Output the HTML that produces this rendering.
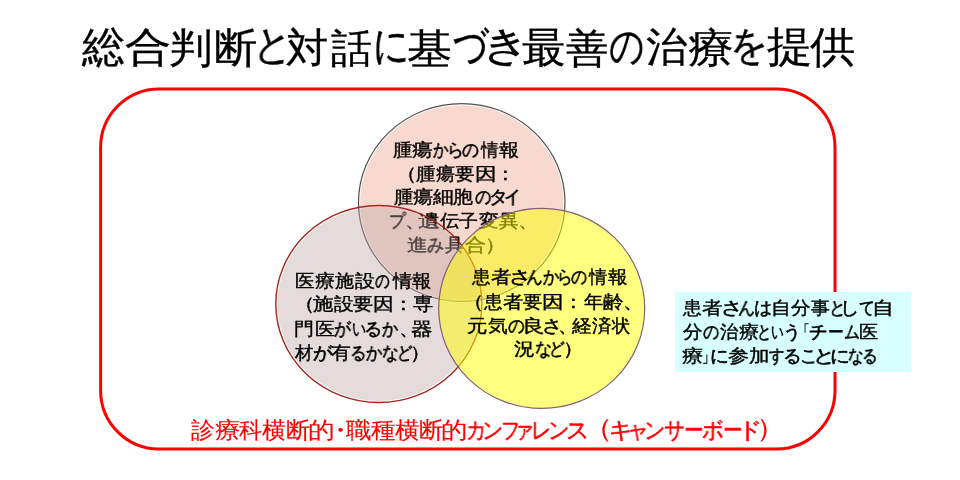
<!DOCTYPE html>
<html lang="ja"><head><meta charset="utf-8"><title>slide</title>
<style>
html,body{margin:0;padding:0;background:#fff;}
body{width:960px;height:480px;position:relative;overflow:hidden;font-family:"Liberation Sans",sans-serif;}
.l{position:absolute;left:0;top:0;}
.t{position:absolute;white-space:nowrap;line-height:1;transform-origin:0 0;will-change:transform;font-family:"Liberation Sans",sans-serif;}
.k{-webkit-text-stroke-width:0.6px;}
.box{position:absolute;left:675px;top:292.1px;width:235.7px;height:79.6px;background:#d7ffff;}
</style></head><body>
<svg class="l" width="960" height="480"><rect x="100.6" y="88.9" width="734.4" height="360.1" rx="58.5" ry="58.5" fill="none" stroke="#ff0000" stroke-width="3"/></svg>
<svg class="l" width="960" height="480"><ellipse cx="461.75" cy="202.5" rx="101.65" ry="97.30000000000001" fill="rgba(240,180,160,0.5)"/><ellipse cx="461.75" cy="202.5" rx="103.25" ry="98.9" fill="none" stroke="#505050" stroke-width="1.2"/></svg>
<div class="t" style="left:392.61px;top:140.53px;font-size:18.30px;transform:scaleX(1.0584);color:#000;-webkit-text-stroke:0.4px #000">腫</div>
<div class="t" style="left:411.68px;top:140.53px;font-size:18.30px;transform:scaleX(1.1510);color:#000;-webkit-text-stroke:0.4px #000">瘍</div>
<div class="t" style="left:432.83px;top:140.53px;font-size:18.30px;transform:scaleX(0.8571);color:#000;-webkit-text-stroke:0.6px #000">か</div>
<div class="t" style="left:447.41px;top:140.53px;font-size:18.30px;transform:scaleX(0.9298);color:#000;-webkit-text-stroke:0.6px #000">ら</div>
<div class="t" style="left:462.41px;top:140.53px;font-size:18.30px;transform:scaleX(0.9368);color:#000;-webkit-text-stroke:0.6px #000">の</div>
<div class="t" style="left:481.16px;top:140.53px;font-size:18.30px;transform:scaleX(0.9770);color:#000;-webkit-text-stroke:0.4px #000">情</div>
<div class="t" style="left:499.49px;top:140.53px;font-size:18.30px;transform:scaleX(1.1223);color:#000;-webkit-text-stroke:0.4px #000">報</div><div class="t" style="left:395.57px;top:164.96px;font-size:18.30px;transform:scaleX(1.1500);color:#000;-webkit-text-stroke:0.4px #000">（</div>
<div class="t" style="left:415.91px;top:164.96px;font-size:18.30px;transform:scaleX(1.0756);color:#000;-webkit-text-stroke:0.4px #000">腫</div>
<div class="t" style="left:435.81px;top:164.96px;font-size:18.30px;transform:scaleX(1.0580);color:#000;-webkit-text-stroke:0.4px #000">瘍</div>
<div class="t" style="left:455.20px;top:164.96px;font-size:18.30px;transform:scaleX(1.0871);color:#000;-webkit-text-stroke:0.4px #000">要</div>
<div class="t" style="left:475.32px;top:164.96px;font-size:18.30px;transform:scaleX(1.2022);color:#000;-webkit-text-stroke:0.4px #000">因</div>
<div class="t" style="left:495.48px;top:164.96px;font-size:18.30px;transform:scaleX(1.1500);color:#000;-webkit-text-stroke:0.4px #000">：</div><div class="t" style="left:393.51px;top:188.36px;font-size:18.30px;transform:scaleX(1.0641);color:#000;-webkit-text-stroke:0.4px #000">腫</div>
<div class="t" style="left:412.69px;top:188.36px;font-size:18.30px;transform:scaleX(1.1220);color:#000;-webkit-text-stroke:0.4px #000">瘍</div>
<div class="t" style="left:433.40px;top:188.36px;font-size:18.30px;transform:scaleX(1.1582);color:#000;-webkit-text-stroke:0.4px #000">細</div>
<div class="t" style="left:453.19px;top:188.36px;font-size:18.30px;transform:scaleX(1.1100);color:#000;-webkit-text-stroke:0.4px #000">胞</div>
<div class="t" style="left:474.54px;top:188.36px;font-size:18.30px;transform:scaleX(0.9067);color:#000;-webkit-text-stroke:0.6px #000">の</div>
<div class="t" style="left:489.11px;top:188.36px;font-size:18.30px;transform:scaleX(1.0461);color:#000;-webkit-text-stroke:0.6px #000">タ</div>
<div class="t" style="left:503.97px;top:188.36px;font-size:18.30px;transform:scaleX(0.9304);color:#000;-webkit-text-stroke:0.6px #000">イ</div><div class="t" style="left:389.49px;top:211.86px;font-size:18.30px;transform:scaleX(0.9185);color:#000;-webkit-text-stroke:0.6px #000">プ</div>
<div class="t" style="left:405.10px;top:211.86px;font-size:18.30px;transform:scaleX(1.1475);color:#000;-webkit-text-stroke:0.4px #000">、</div>
<div class="t" style="left:418.22px;top:211.86px;font-size:18.30px;transform:scaleX(1.2386);color:#000;-webkit-text-stroke:0.4px #000">遺</div>
<div class="t" style="left:439.50px;top:211.86px;font-size:18.30px;transform:scaleX(1.0704);color:#000;-webkit-text-stroke:0.4px #000">伝</div>
<div class="t" style="left:459.42px;top:211.86px;font-size:18.30px;transform:scaleX(1.0518);color:#000;-webkit-text-stroke:0.4px #000">子</div>
<div class="t" style="left:478.90px;top:211.86px;font-size:18.30px;transform:scaleX(1.0929);color:#000;-webkit-text-stroke:0.4px #000">変</div>
<div class="t" style="left:499.35px;top:211.86px;font-size:18.30px;transform:scaleX(1.0900);color:#000;-webkit-text-stroke:0.4px #000">異</div>
<div class="t" style="left:518.49px;top:211.86px;font-size:18.30px;transform:scaleX(1.1500);color:#000;-webkit-text-stroke:0.4px #000">、</div><div class="t" style="left:407.06px;top:236.46px;font-size:18.30px;transform:scaleX(1.1590);color:#000;-webkit-text-stroke:0.4px #000">進</div>
<div class="t" style="left:427.31px;top:236.46px;font-size:18.30px;transform:scaleX(0.9368);color:#000;-webkit-text-stroke:0.6px #000">み</div>
<div class="t" style="left:444.61px;top:236.46px;font-size:18.30px;transform:scaleX(1.0694);color:#000;-webkit-text-stroke:0.4px #000">具</div>
<div class="t" style="left:465.07px;top:236.46px;font-size:18.30px;transform:scaleX(1.1634);color:#000;-webkit-text-stroke:0.4px #000">合</div>
<div class="t" style="left:484.99px;top:236.46px;font-size:18.30px;transform:scaleX(1.1500);color:#000;-webkit-text-stroke:0.4px #000">）</div>
<svg class="l" width="960" height="480"><ellipse cx="378.8" cy="304.0" rx="101.4" ry="96.9" fill="rgba(190,165,165,0.4)"/><ellipse cx="378.8" cy="304.0" rx="103.0" ry="98.5" fill="none" stroke="#a0261c" stroke-width="1.4"/></svg>
<div class="t" style="left:295.41px;top:271.86px;font-size:18.30px;transform:scaleX(1.0868);color:#000;-webkit-text-stroke:0.4px #000">医</div>
<div class="t" style="left:315.34px;top:271.86px;font-size:18.30px;transform:scaleX(1.1137);color:#000;-webkit-text-stroke:0.4px #000">療</div>
<div class="t" style="left:335.11px;top:271.86px;font-size:18.30px;transform:scaleX(1.0591);color:#000;-webkit-text-stroke:0.4px #000">施</div>
<div class="t" style="left:354.80px;top:271.86px;font-size:18.30px;transform:scaleX(1.1102);color:#000;-webkit-text-stroke:0.4px #000">設</div>
<div class="t" style="left:375.40px;top:271.86px;font-size:18.30px;transform:scaleX(0.8167);color:#000;-webkit-text-stroke:0.6px #000">の</div>
<div class="t" style="left:392.59px;top:271.86px;font-size:18.30px;transform:scaleX(1.0653);color:#000;-webkit-text-stroke:0.4px #000">情</div>
<div class="t" style="left:412.01px;top:271.86px;font-size:18.30px;transform:scaleX(1.0782);color:#000;-webkit-text-stroke:0.4px #000">報</div><div class="t" style="left:293.67px;top:295.31px;font-size:18.30px;transform:scaleX(1.1500);color:#000;-webkit-text-stroke:0.4px #000">（</div>
<div class="t" style="left:312.69px;top:295.31px;font-size:18.30px;transform:scaleX(1.1323);color:#000;-webkit-text-stroke:0.4px #000">施</div>
<div class="t" style="left:333.90px;top:295.31px;font-size:18.30px;transform:scaleX(1.0929);color:#000;-webkit-text-stroke:0.4px #000">設</div>
<div class="t" style="left:353.39px;top:295.31px;font-size:18.30px;transform:scaleX(1.1161);color:#000;-webkit-text-stroke:0.4px #000">要</div>
<div class="t" style="left:372.90px;top:295.31px;font-size:18.30px;transform:scaleX(1.1544);color:#000;-webkit-text-stroke:0.4px #000">因</div>
<div class="t" style="left:392.88px;top:295.31px;font-size:18.30px;transform:scaleX(1.1500);color:#000;-webkit-text-stroke:0.4px #000">：</div>
<div class="t" style="left:413.29px;top:295.31px;font-size:18.30px;transform:scaleX(1.1220);color:#000;-webkit-text-stroke:0.4px #000">専</div><div class="t" style="left:293.98px;top:320.31px;font-size:18.30px;transform:scaleX(1.1096);color:#000;-webkit-text-stroke:0.4px #000">門</div>
<div class="t" style="left:314.78px;top:320.31px;font-size:18.30px;transform:scaleX(1.1111);color:#000;-webkit-text-stroke:0.4px #000">医</div>
<div class="t" style="left:334.32px;top:320.31px;font-size:18.30px;transform:scaleX(0.9295);color:#000;-webkit-text-stroke:0.6px #000">が</div>
<div class="t" style="left:351.52px;top:320.31px;font-size:18.30px;transform:scaleX(0.7752);color:#000;-webkit-text-stroke:0.6px #000">い</div>
<div class="t" style="left:364.08px;top:320.31px;font-size:18.30px;transform:scaleX(1.0128);color:#000;-webkit-text-stroke:0.6px #000">る</div>
<div class="t" style="left:382.21px;top:320.31px;font-size:18.30px;transform:scaleX(0.8973);color:#000;-webkit-text-stroke:0.6px #000">か</div>
<div class="t" style="left:398.79px;top:320.31px;font-size:18.30px;transform:scaleX(1.1500);color:#000;-webkit-text-stroke:0.4px #000">、</div>
<div class="t" style="left:411.02px;top:320.31px;font-size:18.30px;transform:scaleX(1.2022);color:#000;-webkit-text-stroke:0.4px #000">器</div><div class="t" style="left:294.60px;top:343.76px;font-size:18.30px;transform:scaleX(1.0084);color:#000;-webkit-text-stroke:0.4px #000">材</div>
<div class="t" style="left:312.51px;top:343.76px;font-size:18.30px;transform:scaleX(1.0816);color:#000;-webkit-text-stroke:0.6px #000">が</div>
<div class="t" style="left:331.10px;top:343.76px;font-size:18.30px;transform:scaleX(1.0987);color:#000;-webkit-text-stroke:0.4px #000">有</div>
<div class="t" style="left:350.00px;top:343.76px;font-size:18.30px;transform:scaleX(0.9107);color:#000;-webkit-text-stroke:0.6px #000">る</div>
<div class="t" style="left:365.90px;top:343.76px;font-size:18.30px;transform:scaleX(0.9031);color:#000;-webkit-text-stroke:0.6px #000">か</div>
<div class="t" style="left:382.46px;top:343.76px;font-size:18.30px;transform:scaleX(0.9170);color:#000;-webkit-text-stroke:0.6px #000">な</div>
<div class="t" style="left:396.71px;top:343.76px;font-size:18.30px;transform:scaleX(0.8493);color:#000;-webkit-text-stroke:0.6px #000">ど</div>
<div class="t" style="left:410.14px;top:343.76px;font-size:18.30px;transform:scaleX(1.1500);color:#000;-webkit-text-stroke:0.4px #000">）</div>
<svg class="l" width="960" height="480"><ellipse cx="541.7" cy="308.4" rx="102.5" ry="99.5" fill="rgba(255,255,0,0.5)"/><ellipse cx="541.7" cy="308.4" rx="103.0" ry="100.0" fill="none" stroke="#86606e" stroke-width="1.2"/></svg>
<div class="t" style="left:471.80px;top:268.01px;font-size:18.30px;transform:scaleX(1.0366);color:#000;-webkit-text-stroke:0.4px #000">患</div>
<div class="t" style="left:490.88px;top:268.01px;font-size:18.30px;transform:scaleX(1.1282);color:#000;-webkit-text-stroke:0.4px #000">者</div>
<div class="t" style="left:508.67px;top:268.01px;font-size:18.30px;transform:scaleX(1.2336);color:#000;-webkit-text-stroke:0.6px #000">さ</div>
<div class="t" style="left:526.38px;top:268.01px;font-size:18.30px;transform:scaleX(0.9296);color:#000;-webkit-text-stroke:0.6px #000">ん</div>
<div class="t" style="left:542.50px;top:268.01px;font-size:18.30px;transform:scaleX(0.9031);color:#000;-webkit-text-stroke:0.6px #000">か</div>
<div class="t" style="left:557.41px;top:268.01px;font-size:18.30px;transform:scaleX(0.8645);color:#000;-webkit-text-stroke:0.6px #000">ら</div>
<div class="t" style="left:571.45px;top:268.01px;font-size:18.30px;transform:scaleX(0.8947);color:#000;-webkit-text-stroke:0.6px #000">の</div>
<div class="t" style="left:589.27px;top:268.01px;font-size:18.30px;transform:scaleX(1.0046);color:#000;-webkit-text-stroke:0.4px #000">情</div>
<div class="t" style="left:608.20px;top:268.01px;font-size:18.30px;transform:scaleX(1.0929);color:#000;-webkit-text-stroke:0.4px #000">報</div><div class="t" style="left:463.02px;top:293.03px;font-size:18.30px;transform:scaleX(1.1500);color:#000;-webkit-text-stroke:0.4px #000">（</div>
<div class="t" style="left:483.80px;top:293.03px;font-size:18.30px;transform:scaleX(1.0366);color:#000;-webkit-text-stroke:0.4px #000">患</div>
<div class="t" style="left:502.88px;top:293.03px;font-size:18.30px;transform:scaleX(1.1282);color:#000;-webkit-text-stroke:0.4px #000">者</div>
<div class="t" style="left:523.21px;top:293.03px;font-size:18.30px;transform:scaleX(1.0696);color:#000;-webkit-text-stroke:0.4px #000">要</div>
<div class="t" style="left:542.42px;top:293.03px;font-size:18.30px;transform:scaleX(1.2022);color:#000;-webkit-text-stroke:0.4px #000">因</div>
<div class="t" style="left:562.78px;top:293.03px;font-size:18.30px;transform:scaleX(1.1500);color:#000;-webkit-text-stroke:0.4px #000">：</div>
<div class="t" style="left:583.90px;top:293.03px;font-size:18.30px;transform:scaleX(1.0699);color:#000;-webkit-text-stroke:0.4px #000">年</div>
<div class="t" style="left:603.36px;top:293.03px;font-size:18.30px;transform:scaleX(1.1469);color:#000;-webkit-text-stroke:0.4px #000">齢</div>
<div class="t" style="left:622.69px;top:293.03px;font-size:18.30px;transform:scaleX(1.1500);color:#000;-webkit-text-stroke:0.4px #000">、</div><div class="t" style="left:467.16px;top:316.81px;font-size:18.30px;transform:scaleX(1.1354);color:#000;-webkit-text-stroke:0.4px #000">元</div>
<div class="t" style="left:487.90px;top:316.81px;font-size:18.30px;transform:scaleX(1.0988);color:#000;-webkit-text-stroke:0.4px #000">気</div>
<div class="t" style="left:507.82px;top:316.81px;font-size:18.30px;transform:scaleX(0.9248);color:#000;-webkit-text-stroke:0.6px #000">の</div>
<div class="t" style="left:521.83px;top:316.81px;font-size:18.30px;transform:scaleX(1.2632);color:#000;-webkit-text-stroke:0.4px #000">良</div>
<div class="t" style="left:541.84px;top:316.81px;font-size:18.30px;transform:scaleX(1.1177);color:#000;-webkit-text-stroke:0.6px #000">さ</div>
<div class="t" style="left:557.50px;top:316.81px;font-size:18.30px;transform:scaleX(1.0929);color:#000;-webkit-text-stroke:0.4px #000">、</div>
<div class="t" style="left:572.00px;top:316.81px;font-size:18.30px;transform:scaleX(1.0929);color:#000;-webkit-text-stroke:0.4px #000">経</div>
<div class="t" style="left:591.60px;top:316.81px;font-size:18.30px;transform:scaleX(1.0870);color:#000;-webkit-text-stroke:0.4px #000">済</div>
<div class="t" style="left:611.69px;top:316.81px;font-size:18.30px;transform:scaleX(1.0140);color:#000;-webkit-text-stroke:0.4px #000">状</div><div class="t" style="left:514.18px;top:340.21px;font-size:18.30px;transform:scaleX(1.1575);color:#000;-webkit-text-stroke:0.4px #000">況</div>
<div class="t" style="left:534.54px;top:340.21px;font-size:18.30px;transform:scaleX(0.9359);color:#000;-webkit-text-stroke:0.6px #000">な</div>
<div class="t" style="left:549.27px;top:340.21px;font-size:18.30px;transform:scaleX(0.8625);color:#000;-webkit-text-stroke:0.6px #000">ど</div>
<div class="t" style="left:562.74px;top:340.21px;font-size:18.30px;transform:scaleX(1.1500);color:#000;-webkit-text-stroke:0.4px #000">）</div>
<div class="box"></div>
<div class="t" style="left:683.00px;top:299.36px;font-size:18.30px;transform:scaleX(1.0422);color:#000;-webkit-text-stroke:0.4px #000">患</div>
<div class="t" style="left:701.87px;top:299.36px;font-size:18.30px;transform:scaleX(1.1458);color:#000;-webkit-text-stroke:0.4px #000">者</div>
<div class="t" style="left:720.64px;top:299.36px;font-size:18.30px;transform:scaleX(1.2005);color:#000;-webkit-text-stroke:0.6px #000">さ</div>
<div class="t" style="left:737.97px;top:299.36px;font-size:18.30px;transform:scaleX(0.9422);color:#000;-webkit-text-stroke:0.6px #000">ん</div>
<div class="t" style="left:753.72px;top:299.36px;font-size:18.30px;transform:scaleX(0.9965);color:#000;-webkit-text-stroke:0.6px #000">は</div>
<div class="t" style="left:770.66px;top:299.36px;font-size:18.30px;transform:scaleX(1.1087);color:#000;-webkit-text-stroke:0.4px #000">自</div>
<div class="t" style="left:791.10px;top:299.36px;font-size:18.30px;transform:scaleX(1.0870);color:#000;-webkit-text-stroke:0.4px #000">分</div>
<div class="t" style="left:811.12px;top:299.36px;font-size:18.30px;transform:scaleX(1.0464);color:#000;-webkit-text-stroke:0.4px #000">事</div>
<div class="t" style="left:828.50px;top:299.36px;font-size:18.30px;transform:scaleX(0.9316);color:#000;-webkit-text-stroke:0.6px #000">と</div>
<div class="t" style="left:840.01px;top:299.36px;font-size:18.30px;transform:scaleX(1.0665);color:#000;-webkit-text-stroke:0.6px #000">し</div>
<div class="t" style="left:858.86px;top:299.36px;font-size:18.30px;transform:scaleX(0.8782);color:#000;-webkit-text-stroke:0.6px #000">て</div>
<div class="t" style="left:872.36px;top:299.36px;font-size:18.30px;transform:scaleX(1.2275);color:#000;-webkit-text-stroke:0.4px #000">自</div><div class="t" style="left:682.60px;top:323.36px;font-size:18.30px;transform:scaleX(1.0870);color:#000;-webkit-text-stroke:0.4px #000">分</div>
<div class="t" style="left:703.34px;top:323.36px;font-size:18.30px;transform:scaleX(0.9007);color:#000;-webkit-text-stroke:0.6px #000">の</div>
<div class="t" style="left:719.63px;top:323.36px;font-size:18.30px;transform:scaleX(1.0140);color:#000;-webkit-text-stroke:0.4px #000">治</div>
<div class="t" style="left:738.59px;top:323.36px;font-size:18.30px;transform:scaleX(1.1285);color:#000;-webkit-text-stroke:0.4px #000">療</div>
<div class="t" style="left:757.49px;top:323.36px;font-size:18.30px;transform:scaleX(0.8062);color:#000;-webkit-text-stroke:0.6px #000">と</div>
<div class="t" style="left:771.35px;top:323.36px;font-size:18.30px;transform:scaleX(0.6989);color:#000;-webkit-text-stroke:0.6px #000">い</div>
<div class="t" style="left:782.73px;top:323.36px;font-size:18.30px;transform:scaleX(0.9935);color:#000;-webkit-text-stroke:0.6px #000">う</div>
<div class="t" style="left:797.50px;top:323.36px;font-size:18.30px;transform:scaleX(0.6375);color:#000;-webkit-text-stroke:0.4px #000">「</div>
<div class="t" style="left:809.05px;top:323.36px;font-size:18.30px;transform:scaleX(1.0364);color:#000;-webkit-text-stroke:0.6px #000">チ</div>
<div class="t" style="left:827.57px;top:323.36px;font-size:18.30px;transform:scaleX(0.8663);color:#000;-webkit-text-stroke:0.6px #000">ー</div>
<div class="t" style="left:843.53px;top:323.36px;font-size:18.30px;transform:scaleX(0.8793);color:#000;-webkit-text-stroke:0.6px #000">ム</div>
<div class="t" style="left:859.33px;top:323.36px;font-size:18.30px;transform:scaleX(1.0625);color:#000;-webkit-text-stroke:0.4px #000">医</div><div class="t" style="left:681.86px;top:347.11px;font-size:18.30px;transform:scaleX(1.1939);color:#000;-webkit-text-stroke:0.4px #000">療</div>
<div class="t" style="left:702.23px;top:347.11px;font-size:18.30px;transform:scaleX(0.6922);color:#000;-webkit-text-stroke:0.4px #000">」</div>
<div class="t" style="left:709.70px;top:347.11px;font-size:18.30px;transform:scaleX(1.0383);color:#000;-webkit-text-stroke:0.6px #000">に</div>
<div class="t" style="left:728.26px;top:347.11px;font-size:18.30px;transform:scaleX(1.1710);color:#000;-webkit-text-stroke:0.4px #000">参</div>
<div class="t" style="left:748.87px;top:347.11px;font-size:18.30px;transform:scaleX(1.1437);color:#000;-webkit-text-stroke:0.4px #000">加</div>
<div class="t" style="left:769.29px;top:347.11px;font-size:18.30px;transform:scaleX(0.8527);color:#000;-webkit-text-stroke:0.6px #000">す</div>
<div class="t" style="left:783.33px;top:347.11px;font-size:18.30px;transform:scaleX(1.0346);color:#000;-webkit-text-stroke:0.6px #000">る</div>
<div class="t" style="left:799.50px;top:347.11px;font-size:18.30px;transform:scaleX(0.9563);color:#000;-webkit-text-stroke:0.6px #000">こ</div>
<div class="t" style="left:812.71px;top:347.11px;font-size:18.30px;transform:scaleX(1.2183);color:#000;-webkit-text-stroke:0.6px #000">と</div>
<div class="t" style="left:829.89px;top:347.11px;font-size:18.30px;transform:scaleX(1.0997);color:#000;-webkit-text-stroke:0.6px #000">に</div>
<div class="t" style="left:848.31px;top:347.11px;font-size:18.30px;transform:scaleX(0.8605);color:#000;-webkit-text-stroke:0.6px #000">な</div>
<div class="t" style="left:861.50px;top:347.11px;font-size:18.30px;transform:scaleX(0.8670);color:#000;-webkit-text-stroke:0.6px #000">る</div>
<div class="t" style="left:82.10px;top:26.24px;font-size:43.15px;transform:scaleX(1.0010);color:#000;-webkit-text-stroke:0.3px #000">総</div>
<div class="t" style="left:125.07px;top:27.69px;font-size:40.31px;transform:scaleX(1.1496);color:#000;-webkit-text-stroke:0.3px #000">合</div>
<div class="t" style="left:169.16px;top:27.67px;font-size:40.83px;transform:scaleX(1.0649);color:#000;-webkit-text-stroke:0.3px #000">判</div>
<div class="t" style="left:214.22px;top:27.66px;font-size:41.26px;transform:scaleX(1.0573);color:#000;-webkit-text-stroke:0.3px #000">断</div>
<div class="t" style="left:252.71px;top:24.04px;font-size:42.41px;transform:scaleX(0.9277);color:#000;-webkit-text-stroke:0.45px #000">と</div>
<div class="t" style="left:286.48px;top:28.40px;font-size:40.83px;transform:scaleX(1.0363);color:#000;-webkit-text-stroke:0.3px #000">対</div>
<div class="t" style="left:330.59px;top:28.59px;font-size:40.31px;transform:scaleX(1.0258);color:#000;-webkit-text-stroke:0.3px #000">話</div>
<div class="t" style="left:372.89px;top:23.60px;font-size:43.33px;transform:scaleX(0.8337);color:#000;-webkit-text-stroke:0.45px #000">に</div>
<div class="t" style="left:407.03px;top:27.66px;font-size:41.43px;transform:scaleX(1.1046);color:#000;-webkit-text-stroke:0.3px #000">基</div>
<div class="t" style="left:452.80px;top:22.97px;font-size:44.81px;transform:scaleX(0.7777);color:#000;-webkit-text-stroke:0.45px #000">づ</div>
<div class="t" style="left:482.40px;top:25.64px;font-size:39.67px;transform:scaleX(1.1765);color:#000;-webkit-text-stroke:0.45px #000">き</div>
<div class="t" style="left:521.83px;top:26.88px;font-size:41.98px;transform:scaleX(1.0400);color:#000;-webkit-text-stroke:0.3px #000">最</div>
<div class="t" style="left:565.56px;top:28.80px;font-size:39.70px;transform:scaleX(1.0612);color:#000;-webkit-text-stroke:0.3px #000">善</div>
<div class="t" style="left:609.00px;top:24.45px;font-size:44.25px;transform:scaleX(0.7923);color:#000;-webkit-text-stroke:0.45px #000">の</div>
<div class="t" style="left:645.57px;top:27.16px;font-size:41.17px;transform:scaleX(1.0066);color:#000;-webkit-text-stroke:0.3px #000">治</div>
<div class="t" style="left:688.08px;top:27.99px;font-size:40.83px;transform:scaleX(1.1207);color:#000;-webkit-text-stroke:0.3px #000">療</div>
<div class="t" style="left:729.71px;top:26.04px;font-size:39.67px;transform:scaleX(0.9382);color:#000;-webkit-text-stroke:0.45px #000">を</div>
<div class="t" style="left:766.65px;top:26.31px;font-size:41.70px;transform:scaleX(1.0817);color:#000;-webkit-text-stroke:0.3px #000">提</div>
<div class="t" style="left:810.30px;top:26.34px;font-size:42.61px;transform:scaleX(1.0537);color:#000;-webkit-text-stroke:0.3px #000">供</div>
<div class="t" style="left:191.07px;top:419.75px;font-size:22.50px;transform:scaleX(1.0292);color:#f00;-webkit-text-stroke:0.1px #f00">診</div>
<div class="t" style="left:214.50px;top:419.75px;font-size:22.50px;transform:scaleX(1.1111);color:#f00;-webkit-text-stroke:0.1px #f00">療</div>
<div class="t" style="left:238.97px;top:419.75px;font-size:22.50px;transform:scaleX(1.0000);color:#f00;-webkit-text-stroke:0.1px #f00">科</div>
<div class="t" style="left:262.26px;top:419.75px;font-size:22.50px;transform:scaleX(1.0526);color:#f00;-webkit-text-stroke:0.1px #f00">横</div>
<div class="t" style="left:285.51px;top:419.75px;font-size:22.50px;transform:scaleX(1.0549);color:#f00;-webkit-text-stroke:0.1px #f00">断</div>
<div class="t" style="left:307.87px;top:419.75px;font-size:22.50px;transform:scaleX(1.1640);color:#f00;-webkit-text-stroke:0.1px #f00">的</div>
<div class="t" style="left:327.05px;top:419.75px;font-size:22.50px;transform:scaleX(1.1500);color:#f00;-webkit-text-stroke:0.1px #f00">・</div>
<div class="t" style="left:346.30px;top:419.75px;font-size:22.50px;transform:scaleX(1.1111);color:#f00;-webkit-text-stroke:0.1px #f00">職</div>
<div class="t" style="left:371.06px;top:419.75px;font-size:22.50px;transform:scaleX(1.0713);color:#f00;-webkit-text-stroke:0.1px #f00">種</div>
<div class="t" style="left:395.06px;top:419.75px;font-size:22.50px;transform:scaleX(1.0760);color:#f00;-webkit-text-stroke:0.1px #f00">横</div>
<div class="t" style="left:418.81px;top:419.75px;font-size:22.50px;transform:scaleX(1.0598);color:#f00;-webkit-text-stroke:0.1px #f00">断</div>
<div class="t" style="left:441.49px;top:419.75px;font-size:22.50px;transform:scaleX(1.1481);color:#f00;-webkit-text-stroke:0.1px #f00">的</div>
<div class="t" style="left:465.54px;top:419.75px;font-size:22.50px;transform:scaleX(0.8711);color:#f00;-webkit-text-stroke:0.5px #f00">カ</div>
<div class="t" style="left:482.33px;top:419.75px;font-size:22.50px;transform:scaleX(0.9117);color:#f00;-webkit-text-stroke:0.5px #f00">ン</div>
<div class="t" style="left:500.54px;top:419.75px;font-size:22.50px;transform:scaleX(0.8312);color:#f00;-webkit-text-stroke:0.5px #f00">フ</div>
<div class="t" style="left:513.54px;top:419.75px;font-size:22.50px;transform:scaleX(0.8624);color:#f00;-webkit-text-stroke:0.5px #f00">ァ</div>
<div class="t" style="left:531.25px;top:419.75px;font-size:22.50px;transform:scaleX(0.8739);color:#f00;-webkit-text-stroke:0.5px #f00">レ</div>
<div class="t" style="left:548.10px;top:419.75px;font-size:22.50px;transform:scaleX(0.9231);color:#f00;-webkit-text-stroke:0.5px #f00">ン</div>
<div class="t" style="left:566.23px;top:419.75px;font-size:22.50px;transform:scaleX(0.9845);color:#f00;-webkit-text-stroke:0.5px #f00">ス</div>
<div class="t" style="left:582.77px;top:415.10px;font-size:26.47px;transform:scaleX(1.1500);color:#f00;-webkit-text-stroke:0.1px #f00">（</div>
<div class="t" style="left:608.72px;top:419.75px;font-size:22.50px;transform:scaleX(1.0114);color:#f00;-webkit-text-stroke:0.5px #f00">キ</div>
<div class="t" style="left:627.13px;top:419.75px;font-size:22.50px;transform:scaleX(0.9404);color:#f00;-webkit-text-stroke:0.5px #f00">ャ</div>
<div class="t" style="left:644.12px;top:419.75px;font-size:22.50px;transform:scaleX(0.9174);color:#f00;-webkit-text-stroke:0.5px #f00">ン</div>
<div class="t" style="left:663.69px;top:419.75px;font-size:22.50px;transform:scaleX(0.8988);color:#f00;-webkit-text-stroke:0.5px #f00">サ</div>
<div class="t" style="left:683.58px;top:419.75px;font-size:22.50px;transform:scaleX(0.8509);color:#f00;-webkit-text-stroke:0.5px #f00">ー</div>
<div class="t" style="left:702.16px;top:419.75px;font-size:22.50px;transform:scaleX(0.9383);color:#f00;-webkit-text-stroke:0.5px #f00">ボ</div>
<div class="t" style="left:722.79px;top:419.75px;font-size:22.50px;transform:scaleX(0.8455);color:#f00;-webkit-text-stroke:0.5px #f00">ー</div>
<div class="t" style="left:738.00px;top:419.75px;font-size:22.50px;transform:scaleX(1.0370);color:#f00;-webkit-text-stroke:0.5px #f00">ド</div>
<div class="t" style="left:756.19px;top:415.10px;font-size:26.47px;transform:scaleX(1.1500);color:#f00;-webkit-text-stroke:0.1px #f00">）</div>
</body></html>
